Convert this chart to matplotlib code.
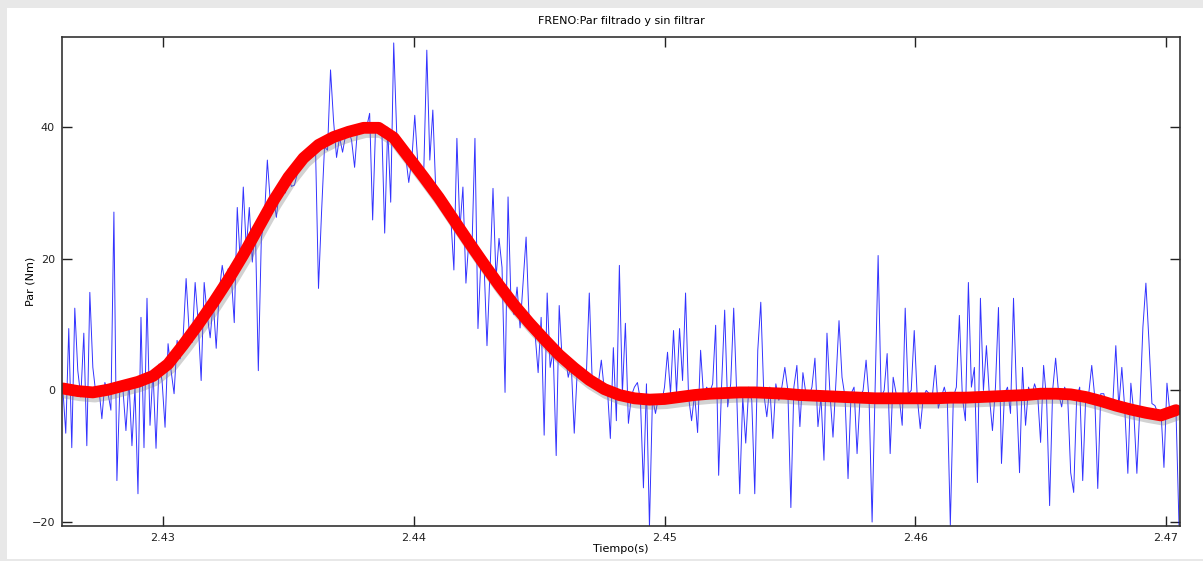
#!/usr/bin/env python3
"""
Par de freno: senal medida (azul) y senal filtrada (rojo).
"""

import numpy as np
import matplotlib
matplotlib.use('Agg')
import matplotlib.pyplot as plt
import matplotlib.patheffects as pe
from matplotlib.patches import Rectangle

# muestreo de la senal sin filtrar
t_inicio = 2.42600
paso = 0.00012

# par sin filtrar (Nm), una muestra por paso
par_sin_filtrar = [
    0.5, -6.5, 9.4, -8.7, 12.5, 3.0, -1.0, 8.7, -8.4, 14.9,
    3.5, -0.5, 0.5, -4.3, 1.2, -0.3, -3.0, 27.1, -13.7, 0.8,
    0.2, -6.1, 1.5, -8.4, 0.5, -15.7, 11.1, -8.7, 14.0, -5.3,
    3.0, -8.8, 4.0, 1.5, -5.6, 7.1, 3.0, -0.5, 7.6, 4.8,
    8.0, 17.0, 9.0, 7.3, 16.4, 10.5, 1.5, 16.4, 11.5, 8.0,
    13.5, 6.4, 15.0, 19.0, 16.0, 18.5, 17.5, 10.3, 27.8, 19.5,
    30.9, 21.5, 27.8, 19.5, 25.0, 3.0, 23.1, 26.0, 35.0, 28.5,
    29.5, 26.3, 30.5, 31.5, 30.0, 32.5, 31.0, 31.2, 33.0, 34.0,
    34.5, 35.5, 36.0, 36.5, 37.0, 15.5, 26.9, 37.0, 36.5, 48.7,
    41.0, 35.4, 38.5, 36.2, 38.8, 39.5, 38.0, 33.9, 40.0, 39.5,
    40.5, 40.0, 42.1, 25.9, 40.5, 39.0, 40.5, 23.9, 40.0, 28.6,
    52.8, 39.0, 37.5, 37.0, 35.5, 31.6, 35.0, 41.8, 34.5, 32.4,
    33.5, 51.7, 35.0, 42.6, 30.0, 29.0, 28.5, 28.0, 27.5, 26.0,
    18.3, 38.3, 24.5, 30.9, 16.3, 23.0, 21.5, 38.3, 9.4, 20.0,
    19.5, 6.8, 18.0, 30.7, 17.0, 23.1, 18.7, -0.3, 29.4, 13.0,
    11.5, 15.7, 9.5, 16.3, 23.3, 10.6, 9.0, 8.5, 2.7, 11.1,
    -6.8, 14.8, 3.5, 6.0, -9.9, 12.9, 4.5, 5.5, 2.0, 4.0,
    -6.5, 3.0, 2.5, 1.5, 2.0, 14.8, 1.0, 0.5, 1.0, 4.6,
    0.0, 0.5, -7.3, 6.5, -4.6, 19.0, -0.5, 10.2, -5.0, -0.8,
    0.5, 1.2, -1.5, -14.8, 1.0, -20.8, -1.0, -3.5, -1.0, -2.0,
    0.5, 5.8, -0.5, 9.1, -0.5, 9.4, 1.5, 14.8, -1.0, -4.6,
    -0.5, -6.4, 6.1, -1.0, 0.5, -0.3, 1.0, 9.9, -12.9, 1.0,
    12.2, -2.5, 1.0, 12.5, -0.5, -15.7, -1.0, -8.0, 0.5, -1.5,
    -15.7, 6.1, 13.4, -0.5, -4.0, 0.5, -7.3, 1.0, -1.5, 0.5,
    3.5, 0.0, -17.8, 0.5, 3.8, -5.5, 2.7, -0.5, -1.0, 0.5,
    4.9, -5.5, -1.0, -10.6, 8.7, -0.5, -7.1, 1.5, 10.6, 2.0,
    -1.0, -13.4, -0.5, 0.5, -9.6, -1.0, 0.0, 4.6, -1.5, -20.0,
    0.5, 20.5, -1.0, 0.0, 5.6, -9.6, 2.0, -0.5, -1.0, -5.3,
    12.5, -0.5, 0.0, 9.1, -1.0, -5.8, -1.0, 0.0, -0.5, -1.0,
    3.8, -2.7, -1.0, 0.5, -1.5, -20.5, -1.0, 0.5, 11.4, -1.0,
    -4.6, 16.4, 0.5, 3.5, -14.0, 14.0, 0.0, 6.8, -1.0, -6.1,
    0.5, 12.6, -11.1, -0.5, 0.5, -3.5, 14.0, -0.5, -12.5, 3.5,
    -5.3, 0.5, -1.0, 1.0, -0.5, -7.9, 3.8, -1.5, -17.5, 0.0,
    4.9, -0.5, -2.5, 0.5, -1.0, -12.5, -15.5, -1.0, 0.5, -13.7,
    -1.0, -0.5, 3.8, -1.0, -14.9, -0.5, -0.5, -2.5, -1.5, -2.0,
    6.8, -2.5, 3.5, -3.0, -12.6, 1.1, -3.5, -12.6, -2.5, 9.6,
    16.3, 7.6, -2.0, -2.3, -3.5, -3.0, -11.7, 1.1, -3.5, -4.0,
    -3.0, -20.5,
]

# par filtrado (Nm), una muestra cada 5 pasos
par_filtrado = [
    0.3, -0.1, -0.3, 0.1, 0.7, 1.3, 2.2, 4.0, 6.9, 10.0,
    13.3, 16.8, 20.6, 24.7, 28.8, 32.4, 35.3, 37.3, 38.5, 39.3,
    39.9, 39.9, 38.4, 35.4, 32.4, 29.3, 25.9, 22.5, 19.2, 16.0,
    13.0, 10.3, 7.8, 5.4, 3.4, 1.6, 0.2, -0.7, -1.2, -1.4,
    -1.3, -1.0, -0.7, -0.5, -0.4, -0.3, -0.3, -0.4, -0.5, -0.7,
    -0.8, -0.9, -1.0, -1.1, -1.2, -1.2, -1.2, -1.2, -1.2, -1.1,
    -1.1, -1.0, -0.9, -0.8, -0.7, -0.5, -0.5, -0.6, -1.0, -1.6,
    -2.3, -2.9, -3.4, -3.8, -3.0,
]

y_ticks = [-20, 0, 20, 40]
x_ticks = [2.43, 2.44, 2.45, 2.46, 2.47]


def main():
    t = t_inicio + paso * np.arange(len(par_sin_filtrar))
    t_fil = t_inicio + 5 * paso * np.arange(len(par_filtrado))

    fig = plt.figure(figsize=(12.03, 5.61), dpi=100, facecolor='#e8e8e8')
    # panel blanco de la ventana
    fig.patches.append(Rectangle((7 / 1203, 2 / 561), 1196 / 1203, 551 / 561,
                                 transform=fig.transFigure, facecolor='white',
                                 edgecolor='none', zorder=-10))

    ax = fig.add_axes([62 / 1203, 35 / 561, 1118 / 1203, 489 / 561])
    ax.plot(t, par_sin_filtrar, color='#0000ff', lw=0.7, alpha=0.8)
    ax.plot(t_fil, par_filtrado, color='#ff0000', lw=8.5,
            solid_capstyle='round', solid_joinstyle='round',
            path_effects=[pe.SimpleLineShadow(offset=(1.5, -3), shadow_color='#808080', alpha=0.35),
                          pe.Normal()])

    ax.set_xlim(2.42597, 2.47056)
    ax.set_ylim(-20.6, 53.7)
    ax.set_xticks(x_ticks)
    ax.set_yticks(y_ticks)
    ax.set_xticklabels([f'{v:.2f}' for v in x_ticks])
    ax.tick_params(direction='in', length=7, width=1, colors='#222222',
                   labelsize=8, top=True, right=True, pad=5)
    for s in ax.spines.values():
        s.set_color('#333333')
        s.set_linewidth(1.2)

    ax.set_title('FRENO:Par filtrado y sin filtrar', fontsize=8, pad=9)
    ax.set_xlabel('Tiempo(s)', fontsize=8)
    ax.set_ylabel('Par (Nm)', fontsize=8)
    ax.xaxis.set_label_coords(0.5, -0.037)
    ax.yaxis.set_label_coords(-0.024, 0.5)

    plt.savefig('out.png', dpi=100, facecolor=fig.get_facecolor())
    print("Saved out.png")


if __name__ == "__main__":
    main()
